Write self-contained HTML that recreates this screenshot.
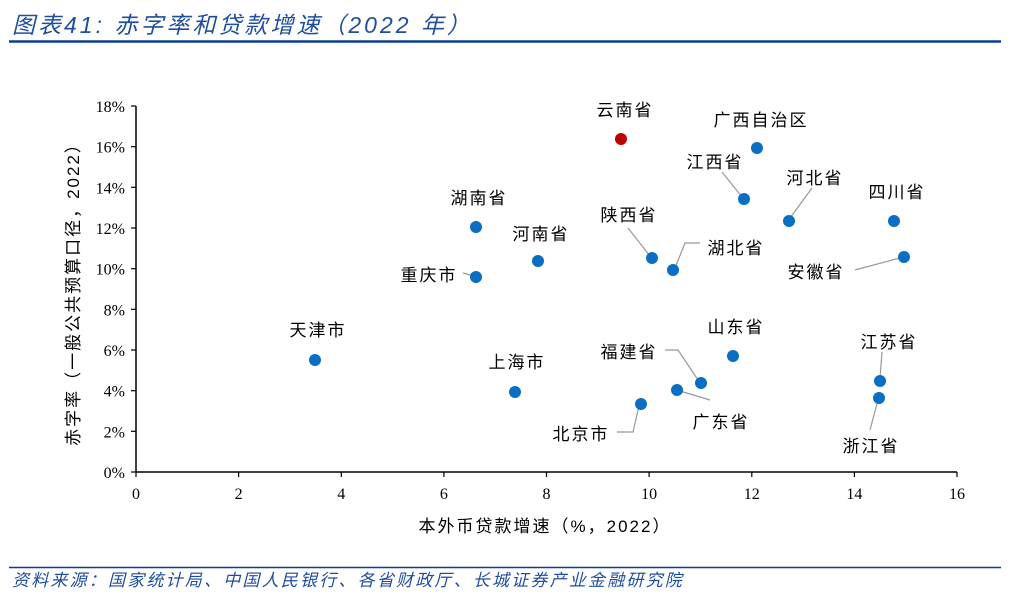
<!DOCTYPE html>
<html><head><meta charset="utf-8"><style>
body{margin:0;background:#fff;width:1014px;height:597px;overflow:hidden}
svg{display:block}
.cj{font-family:"Liberation Sans","Noto Sans CJK SC",sans-serif}
.sf{font-family:"Liberation Serif","Noto Serif CJK SC",serif}
</style></head><body>
<svg width="1014" height="597" viewBox="0 0 1014 597">
<text x="12" y="33" class="cj" font-size="23" font-style="italic" letter-spacing="3" fill="#1f4e9c">图表41: 赤字率和贷款增速（2022 年）</text>
<line x1="9" y1="41.5" x2="1001" y2="41.5" stroke="#0a3d8f" stroke-width="2.5"/>
<g stroke="#000" stroke-width="1.5">
<line x1="136" y1="106" x2="136" y2="472"/>
<line x1="136" y1="472" x2="957" y2="472"/>
</g>
<g stroke="#000" stroke-width="1.2">
<line x1="131" y1="106" x2="136" y2="106"/><line x1="131" y1="146.7" x2="136" y2="146.7"/><line x1="131" y1="187.3" x2="136" y2="187.3"/><line x1="131" y1="228" x2="136" y2="228"/><line x1="131" y1="268.7" x2="136" y2="268.7"/><line x1="131" y1="309.3" x2="136" y2="309.3"/><line x1="131" y1="350" x2="136" y2="350"/><line x1="131" y1="390.7" x2="136" y2="390.7"/><line x1="131" y1="431.3" x2="136" y2="431.3"/><line x1="131" y1="472" x2="136" y2="472"/>
<line x1="136" y1="472" x2="136" y2="477"/><line x1="238.6" y1="472" x2="238.6" y2="477"/><line x1="341.3" y1="472" x2="341.3" y2="477"/><line x1="443.9" y1="472" x2="443.9" y2="477"/><line x1="546.5" y1="472" x2="546.5" y2="477"/><line x1="649.1" y1="472" x2="649.1" y2="477"/><line x1="751.8" y1="472" x2="751.8" y2="477"/><line x1="854.4" y1="472" x2="854.4" y2="477"/><line x1="957" y1="472" x2="957" y2="477"/>
</g>
<g class="sf" font-size="16" text-anchor="end" fill="#000">
<text x="125" y="112">18%</text><text x="125" y="152.7">16%</text><text x="125" y="193.3">14%</text><text x="125" y="234">12%</text><text x="125" y="274.7">10%</text><text x="125" y="315.3">8%</text><text x="125" y="356">6%</text><text x="125" y="396.7">4%</text><text x="125" y="437.3">2%</text><text x="125" y="478">0%</text>
</g>
<g class="sf" font-size="16" text-anchor="middle" fill="#000">
<text x="136" y="499">0</text><text x="238.6" y="499">2</text><text x="341.3" y="499">4</text><text x="443.9" y="499">6</text><text x="546.5" y="499">8</text><text x="649.1" y="499">10</text><text x="751.8" y="499">12</text><text x="854.4" y="499">14</text><text x="957" y="499">16</text>
</g>
<text x="545" y="532" class="cj" font-size="17" letter-spacing="2" text-anchor="middle">本外币贷款增速（%，2022）</text>
<text transform="translate(79,290) rotate(-90)" class="cj" font-size="17" letter-spacing="2" text-anchor="middle">赤字率（一般公共预算口径，2022）</text>
<g stroke="#999" stroke-width="1.2" fill="none">
<polyline points="722,172 742,197"/><polyline points="812,188 790,218"/><polyline points="628,228 650,256"/>
<polyline points="700,243 685,243 675,268"/><polyline points="855,270 900,258"/><polyline points="463,273 474,276"/>
<polyline points="665,350 678,350 698,380"/><polyline points="680,391 710,400"/><polyline points="617,432 633,432 639,406"/>
<polyline points="882,352 880,378"/><polyline points="878,400 870,430"/>
</g>
<g fill="#0a6fc2">
<circle cx="757" cy="148" r="6"/><circle cx="744" cy="199" r="6"/><circle cx="789" cy="221" r="6"/><circle cx="894" cy="221" r="6"/><circle cx="476" cy="227" r="6"/><circle cx="538" cy="261" r="6"/><circle cx="652" cy="258" r="6"/><circle cx="673" cy="270" r="6"/><circle cx="904" cy="257" r="6"/><circle cx="476" cy="277" r="6"/><circle cx="315" cy="360" r="6"/><circle cx="515" cy="392" r="6"/><circle cx="733" cy="356" r="6"/><circle cx="701" cy="383" r="6"/><circle cx="677" cy="390" r="6"/><circle cx="641" cy="404" r="6"/><circle cx="880" cy="381" r="6"/><circle cx="879" cy="398" r="6"/>
</g>
<circle cx="621" cy="139" r="6" fill="#c00000"/>
<g class="cj" font-size="17" letter-spacing="2" text-anchor="middle" fill="#000">
<text x="625" y="116">云南省</text><text x="761" y="126">广西自治区</text><text x="715" y="168">江西省</text><text x="815" y="184">河北省</text><text x="897" y="198">四川省</text><text x="479" y="204">湖南省</text><text x="541" y="240">河南省</text><text x="629" y="221">陕西省</text><text x="736" y="254">湖北省</text><text x="816" y="278">安徽省</text><text x="429" y="281">重庆市</text><text x="318" y="336">天津市</text><text x="517" y="368">上海市</text><text x="736" y="333">山东省</text><text x="629" y="358">福建省</text><text x="721" y="428">广东省</text><text x="581" y="440">北京市</text><text x="889" y="348">江苏省</text><text x="871" y="452">浙江省</text>
</g>
<line x1="9" y1="567.5" x2="1001" y2="567.5" stroke="#0a3d8f" stroke-width="1.5"/>
<text x="12" y="586" class="cj" font-size="17" font-style="italic" letter-spacing="2.2" fill="#1f4e9c">资料来源：国家统计局、中国人民银行、各省财政厅、长城证券产业金融研究院</text>
</svg>
</body></html>
